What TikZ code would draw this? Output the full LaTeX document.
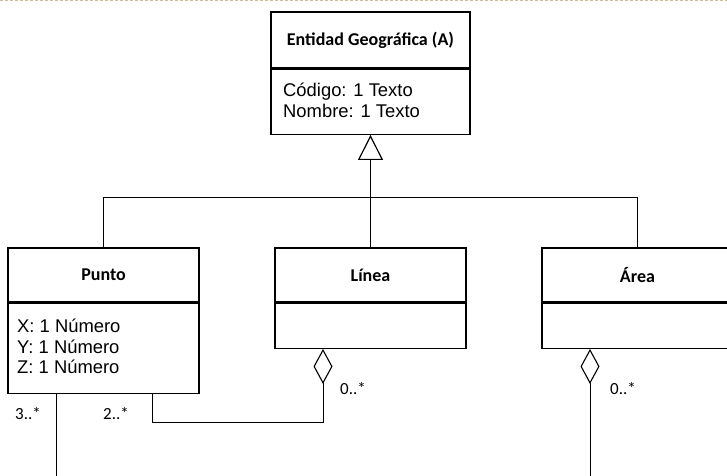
\documentclass[tikz,border=0pt]{standalone}
\usepackage{fontspec}
\setmainfont{Liberation Sans}
\newfontfamily\calfont{Carlito}
\usetikzlibrary{arrows.meta}
\definecolor{ruletan}{HTML}{C9C09A}
\begin{document}
\begin{tikzpicture}[x=1pt,y=-1pt,
  titlebox/.style={draw, line width=1.3pt, inner sep=0pt, font=\calfont\bfseries\fontsize{18}{22}\selectfont},
  bodybox/.style={draw, line width=1.3pt, inner sep=0pt},
  attr/.style={inner sep=0pt, anchor=base west, font=\fontsize{18.4}{22}\selectfont},
  mult/.style={inner sep=0pt, font=\calfont\fontsize{17}{20}\selectfont},
  conn/.style={line width=1pt},
  genarrow/.style={-{Triangle[open,length=25pt,width=25pt,line width=1.2pt]}},
  aggr/.style={-{Diamond[open,length=35pt,width=19pt,line width=1.1pt]}}
]
\useasboundingbox (0,0) rectangle (727,475);
\clip (0,0) rectangle (727,475);

% dotted rule along the top edge
\draw[ruletan, line width=1.4pt, dash pattern=on 3pt off 2pt] (0,0.7) -- (727,0.7);

% abstract parent class
\node[titlebox, minimum width=199pt, minimum height=56pt] (etitle) at (370.5,40) {Entidad Geográfica (A)};
\node[bodybox, minimum width=199pt, minimum height=65pt, anchor=north] (ebody) at (etitle.south) {};
\node[attr] (ea1) at (283,96) {Código: 1 Texto};
\node[attr] (ea2) at (283,117.5) {Nombre: 1 Texto};

% Punto
\node[titlebox, minimum width=191pt, minimum height=54pt] (ptitle) at (103.5,275) {Punto};
\node[bodybox, minimum width=191pt, minimum height=90pt, anchor=north] (pbody) at (ptitle.south) {};
\node[attr] (pa1) at (17,332.5) {X: 1 Número};
\node[attr] (pa2) at (17,353) {Y: 1 Número};
\node[attr] (pa3) at (17,373.5) {Z: 1 Número};

% Línea
\node[titlebox, minimum width=191pt, minimum height=54pt] (ltitle) at (370.5,275) {Línea};
\node[bodybox, minimum width=191pt, minimum height=45pt, anchor=north] (lbody) at (ltitle.south) {};

% Área
\node[titlebox, minimum width=191pt, minimum height=54pt] (atitle) at (637.5,275) {Área};
\node[bodybox, minimum width=191pt, minimum height=45pt, anchor=north] (abody) at (atitle.south) {};

% generalisation tree
\coordinate (junc) at (370.5,197);
\draw[conn] (ptitle.north) |- (junc);
\draw[conn] (atitle.north) |- (junc);
\draw[conn, genarrow] (ltitle.north) -- (ebody.south);

% aggregations
\coordinate (pleft) at ([xshift=-47.5pt]pbody.south);
\coordinate (pright) at ([xshift=48.5pt]pbody.south);
\coordinate (ldia) at ([xshift=-47.5pt]lbody.south);
\coordinate (adia) at ([xshift=-47.5pt]abody.south);
\coordinate (pend) at (56,480);
\coordinate (aend) at (590,480);
\draw[conn] (pleft) -- (pend);
\draw[conn, aggr] (pright) -- ++(0,29) -| (ldia);
\draw[conn, aggr] (aend) -- (adia);

% multiplicities
\node[mult] (m1) at (28,414) {3..*};
\node[mult] (m2) at (116,414) {2..*};
\node[mult] (m3) at (353,389) {0..*};
\node[mult] (m4) at (623,389) {0..*};
\end{tikzpicture}
\end{document}
